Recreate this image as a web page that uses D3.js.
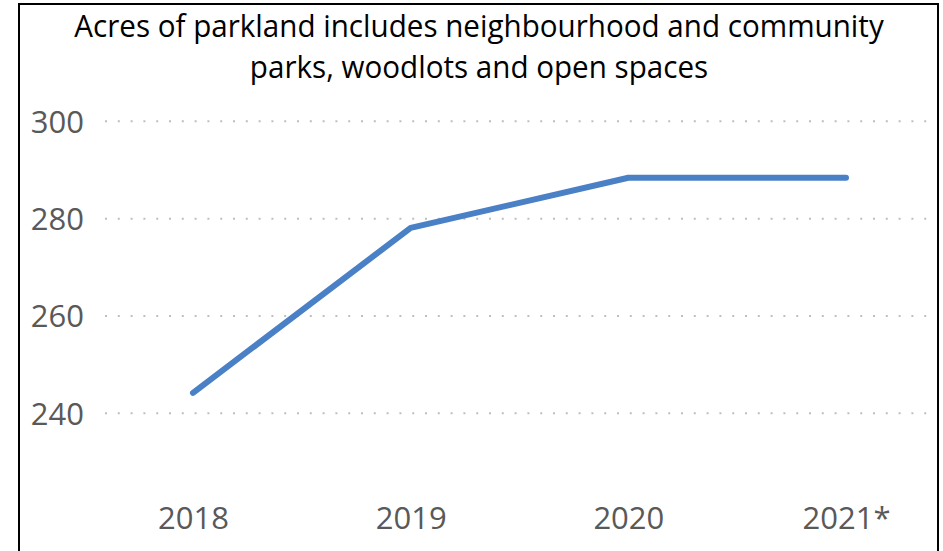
<!DOCTYPE html>
<html>
<head>
<meta charset="utf-8">
<script src="https://cdn.jsdelivr.net/npm/d3@7"></script>
<style>
  html, body { margin: 0; padding: 0; background: #fff; }
  svg { display: block; }
</style>
</head>
<body>
<svg id="chart" width="943" height="551"></svg>
<script>
const titleLines = ["Acres of parkland includes neighbourhood and community", "parks, woodlots and open spaces"];
const categories = ["2018", "2019", "2020", "2021*"];
const values = [244.2, 278.1, 288.4, 288.4];
const yTicks = [240, 260, 280, 300];

const svg = d3.select("#chart");
const font = "'Open Sans', 'Noto Sans', sans-serif";

// frame
svg.append("path")
  .attr("d", "M19,560 L19,4 L938,4 L938,560")
  .attr("fill", "none").attr("stroke", "#000").attr("stroke-width", 2);

const x = d3.scalePoint().domain(categories).range([193, 846]);
const y = d3.scaleLinear().domain([240, 300]).range([413.3, 121.3]);

// gridlines
svg.append("g").selectAll("line").data(yTicks).join("line")
  .attr("x1", 105).attr("x2", 927)
  .attr("y1", d => y(d)).attr("y2", d => y(d))
  .attr("stroke", "#bfbfbf").attr("stroke-width", 2)
  .attr("stroke-dasharray", "2,10.8");

// y axis labels
const yAxis = d3.axisLeft(y).tickValues(yTicks).tickSize(0).tickPadding(0);
const gy = svg.append("g").attr("transform", "translate(84,0)").call(yAxis);
gy.select(".domain").remove();
gy.selectAll("text").attr("font-family", font).attr("font-size", 31)
  .attr("fill", "#595959").attr("dy", "0.35em");

// x axis labels
const xAxis = d3.axisBottom(x).tickSize(0).tickPadding(0);
const gx = svg.append("g").attr("transform", "translate(0,507)").call(xAxis);
gx.select(".domain").remove();
gx.selectAll("text").attr("font-family", font).attr("font-size", 31)
  .attr("fill", "#595959").attr("dy", "0.71em");

// line
const line = d3.line().x((d, i) => x(categories[i])).y(d => y(d));
svg.append("path").datum(values)
  .attr("d", line)
  .attr("fill", "none").attr("stroke", "#4a80c5").attr("stroke-width", 6)
  .attr("stroke-linecap", "round").attr("stroke-linejoin", "round");

// title (taller glyphs, horizontally fitted to ~810px)
const tg = svg.append("g");
const title = tg.append("text").attr("text-anchor", "middle")
  .attr("font-family", font).attr("font-size", 31).attr("fill", "#000");
title.selectAll("tspan").data(titleLines).join("tspan")
  .attr("x", 0).attr("y", (d, i) => 37 + i * 41).text(d => d);
const w = title.select("tspan").node().getComputedTextLength();
const sx = w > 0 ? 810 / w : 1;
tg.attr("transform", `translate(479,0) scale(${sx},1)`);
</script>
</body>
</html>
